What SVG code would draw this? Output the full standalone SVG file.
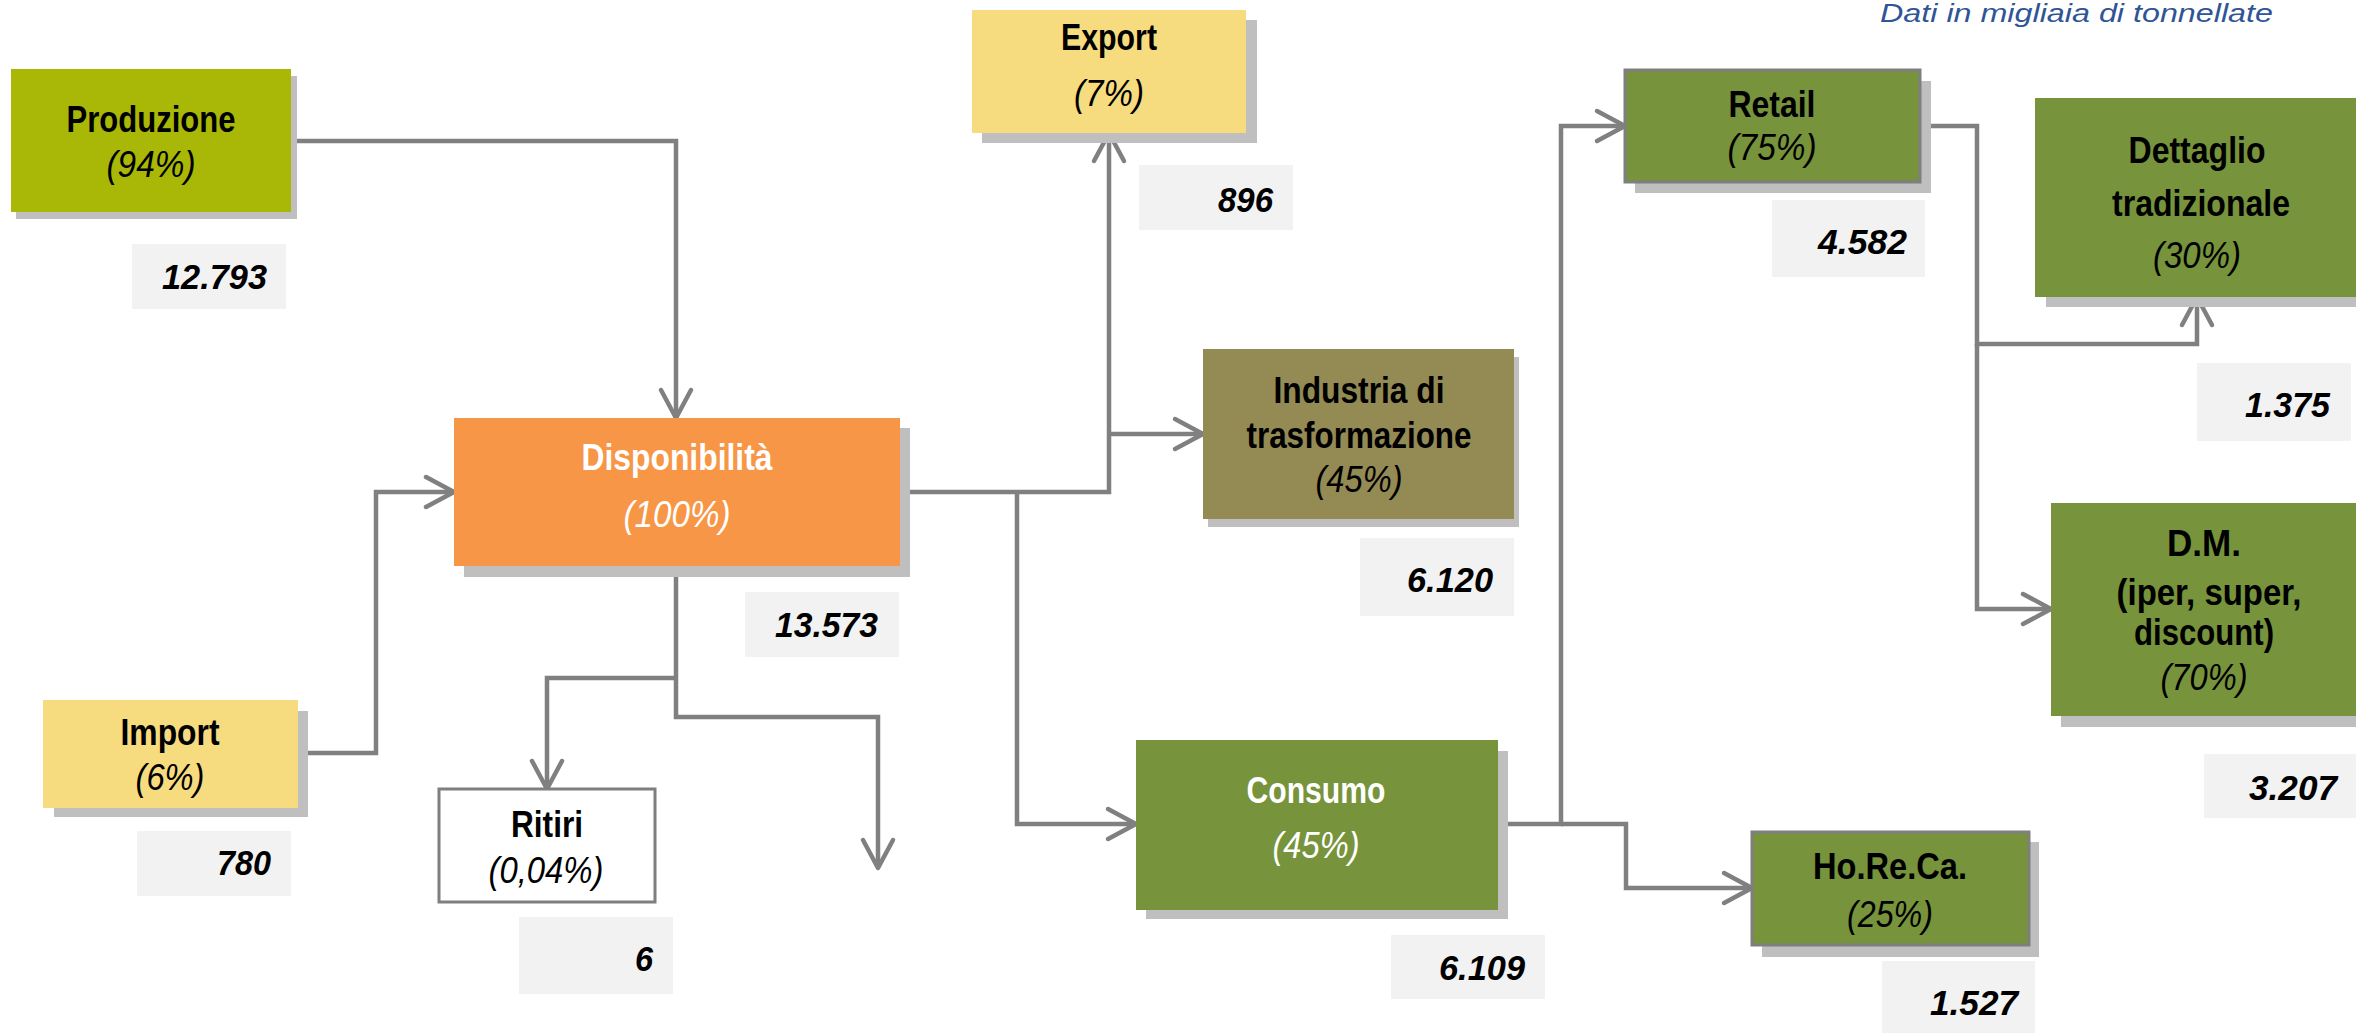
<svg xmlns="http://www.w3.org/2000/svg" width="2356" height="1033" viewBox="0 0 2356 1033">
<defs>
<style>
.sh{fill:#bfbfbf}
.vb{fill:#f2f2f2}
.bd{stroke:#7f7f7f;stroke-width:3}
.b{font-family:"Liberation Sans",Arial,sans-serif;font-weight:bold;font-size:36px;text-anchor:middle;fill:#000}
.i{font-family:"Liberation Sans",Arial,sans-serif;font-style:italic;font-size:36px;text-anchor:middle;fill:#000}
.w{fill:#fff}
.v{font-family:"Liberation Sans",Arial,sans-serif;font-weight:bold;font-style:italic;font-size:35px;text-anchor:end;fill:#000}
.c{fill:none;stroke:#808080;stroke-width:4.5;stroke-linejoin:miter}
.t{font-family:"Liberation Sans",Arial,sans-serif;font-style:italic;font-size:26px;fill:#2f5597}
</style>
<marker id="ar" markerUnits="userSpaceOnUse" markerWidth="40" markerHeight="40" viewBox="-32 -20 36 40" refX="0" refY="0" orient="auto">
<path d="M-28,-15 L0,0 L-28,15" fill="none" stroke="#808080" stroke-width="4.5" stroke-linecap="round" stroke-linejoin="round"/>
</marker>
</defs>
<rect width="2356" height="1033" fill="#fff"/>
<text class="t" x="1880" y="22" textLength="393" lengthAdjust="spacingAndGlyphs">Dati in migliaia di tonnellate</text>

<g id="connectors">
<path class="c" d="M291,141 H676 V418" marker-end="url(#ar)"/>
<path class="c" d="M298,753 H376 V492 H454" marker-end="url(#ar)"/>
<path class="c" d="M900,492 H1109 V133" marker-end="url(#ar)"/>
<path class="c" d="M1109,434 H1203" marker-end="url(#ar)"/>
<path class="c" d="M1017,492 V824 H1136" marker-end="url(#ar)"/>
<path class="c" d="M676,566 V717 H878 V868" marker-end="url(#ar)"/>
<path class="c" d="M676,678 H547 V789" marker-end="url(#ar)"/>
<path class="c" d="M1498,824 H1561 V126 H1625" marker-end="url(#ar)"/>
<path class="c" d="M1561,824 H1626 V888 H1752" marker-end="url(#ar)"/>
<path class="c" d="M1920,126 H1977 V344 H2197 V297" marker-end="url(#ar)"/>
<path class="c" d="M1977,344 V609 H2051" marker-end="url(#ar)"/>
</g>

<g id="produzione">
<rect class="sh" x="16" y="76" width="281" height="143"/>
<rect x="11" y="69" width="280" height="143" fill="#a9b707"/>
<text class="b" x="151" y="132" textLength="169" lengthAdjust="spacingAndGlyphs">Produzione</text>
<text class="i" x="151" y="177" textLength="89" lengthAdjust="spacingAndGlyphs">(94%)</text>
</g>
<g id="val-produzione">
<rect class="vb" x="132" y="244" width="154" height="65"/>
<text class="v" x="267" y="289" textLength="105" lengthAdjust="spacingAndGlyphs">12.793</text>
</g>

<g id="export">
<rect class="sh" x="982" y="20" width="275" height="123"/>
<rect x="972" y="10" width="274" height="123" fill="#f7dc7f"/>
<text class="b" x="1109" y="50" textLength="96" lengthAdjust="spacingAndGlyphs">Export</text>
<text class="i" x="1109" y="106" textLength="70" lengthAdjust="spacingAndGlyphs">(7%)</text>
</g>
<g id="val-export">
<rect class="vb" x="1139" y="165" width="154" height="65"/>
<text class="v" x="1273" y="212" textLength="55" lengthAdjust="spacingAndGlyphs">896</text>
</g>

<g id="retail">
<rect class="sh" x="1635" y="81" width="296" height="112"/>
<rect class="bd" x="1625" y="70" width="295" height="112" fill="#77933c"/>
<text class="b" x="1772" y="117" textLength="87" lengthAdjust="spacingAndGlyphs">Retail</text>
<text class="i" x="1772" y="160" textLength="89" lengthAdjust="spacingAndGlyphs">(75%)</text>
</g>
<g id="val-retail">
<rect class="vb" x="1772" y="200" width="153" height="77"/>
<text class="v" x="1907" y="254" textLength="89" lengthAdjust="spacingAndGlyphs">4.582</text>
</g>

<g id="dettaglio">
<rect class="sh" x="2046" y="108" width="330" height="199"/>
<rect x="2035" y="98" width="340" height="199" fill="#77933c"/>
<text class="b" x="2197" y="163" textLength="137" lengthAdjust="spacingAndGlyphs">Dettaglio</text>
<text class="b" x="2201" y="216" textLength="178" lengthAdjust="spacingAndGlyphs">tradizionale</text>
<text class="i" x="2197" y="268" textLength="88" lengthAdjust="spacingAndGlyphs">(30%)</text>
</g>
<g id="val-dettaglio">
<rect class="vb" x="2197" y="363" width="154" height="78"/>
<text class="v" x="2330" y="417" textLength="85" lengthAdjust="spacingAndGlyphs">1.375</text>
</g>

<g id="industria">
<rect class="sh" x="1208" y="357" width="311" height="170"/>
<rect x="1203" y="349" width="311" height="170" fill="#948a54"/>
<text class="b" x="1359" y="403" textLength="171" lengthAdjust="spacingAndGlyphs">Industria di</text>
<text class="b" x="1359" y="448" textLength="225" lengthAdjust="spacingAndGlyphs">trasformazione</text>
<text class="i" x="1359" y="492" textLength="87" lengthAdjust="spacingAndGlyphs">(45%)</text>
</g>
<g id="val-industria">
<rect class="vb" x="1360" y="538" width="154" height="78"/>
<text class="v" x="1493" y="592" textLength="86" lengthAdjust="spacingAndGlyphs">6.120</text>
</g>

<g id="disponibilita">
<rect class="sh" x="464" y="428" width="446" height="149"/>
<rect x="454" y="418" width="446" height="148" fill="#f79646"/>
<text class="b w" x="677" y="470" textLength="191" lengthAdjust="spacingAndGlyphs">Disponibilità</text>
<text class="i w" x="677" y="527" textLength="107" lengthAdjust="spacingAndGlyphs">(100%)</text>
</g>
<g id="val-disponibilita">
<rect class="vb" x="745" y="592" width="154" height="65"/>
<text class="v" x="878" y="637" textLength="103" lengthAdjust="spacingAndGlyphs">13.573</text>
</g>

<g id="import">
<rect class="sh" x="54" y="711" width="254" height="106"/>
<rect x="43" y="700" width="255" height="108" fill="#f7dc7f"/>
<text class="b" x="170" y="745" textLength="99" lengthAdjust="spacingAndGlyphs">Import</text>
<text class="i" x="170" y="790" textLength="69" lengthAdjust="spacingAndGlyphs">(6%)</text>
</g>
<g id="val-import">
<rect class="vb" x="137" y="831" width="154" height="65"/>
<text class="v" x="271" y="875" textLength="54" lengthAdjust="spacingAndGlyphs">780</text>
</g>

<g id="ritiri">
<rect class="bd" x="439" y="789" width="216" height="113" fill="#fff"/>
<text class="b" x="547" y="837" textLength="72" lengthAdjust="spacingAndGlyphs">Ritiri</text>
<text class="i" x="546" y="883" textLength="115" lengthAdjust="spacingAndGlyphs">(0,04%)</text>
</g>
<g id="val-ritiri">
<rect class="vb" x="519" y="917" width="154" height="77"/>
<text class="v" x="653" y="971" textLength="18" lengthAdjust="spacingAndGlyphs">6</text>
</g>

<g id="consumo">
<rect class="sh" x="1146" y="751" width="362" height="168"/>
<rect x="1136" y="740" width="362" height="170" fill="#77933c"/>
<text class="b w" x="1316" y="803" textLength="139" lengthAdjust="spacingAndGlyphs">Consumo</text>
<text class="i w" x="1316" y="858" textLength="87" lengthAdjust="spacingAndGlyphs">(45%)</text>
</g>
<g id="val-consumo">
<rect class="vb" x="1391" y="935" width="154" height="64"/>
<text class="v" x="1525" y="980" textLength="86" lengthAdjust="spacingAndGlyphs">6.109</text>
</g>

<g id="dm">
<rect class="sh" x="2061" y="513" width="310" height="214"/>
<rect x="2051" y="503" width="320" height="213" fill="#77933c"/>
<text class="b" x="2204" y="556" textLength="74" lengthAdjust="spacingAndGlyphs">D.M.</text>
<text class="b" x="2209" y="605" textLength="185" lengthAdjust="spacingAndGlyphs">(iper, super,</text>
<text class="b" x="2204" y="645" textLength="140" lengthAdjust="spacingAndGlyphs">discount)</text>
<text class="i" x="2204" y="690" textLength="87" lengthAdjust="spacingAndGlyphs">(70%)</text>
</g>
<g id="val-dm">
<rect class="vb" x="2204" y="754" width="160" height="64"/>
<text class="v" x="2337" y="800" textLength="88" lengthAdjust="spacingAndGlyphs">3.207</text>
</g>

<g id="horeca">
<rect class="sh" x="1762" y="842" width="277" height="115"/>
<rect class="bd" x="1752" y="832" width="277" height="113" fill="#77933c"/>
<text class="b" x="1890" y="879" textLength="154" lengthAdjust="spacingAndGlyphs">Ho.Re.Ca.</text>
<text class="i" x="1890" y="927" textLength="86" lengthAdjust="spacingAndGlyphs">(25%)</text>
</g>
<g id="val-horeca">
<rect class="vb" x="1882" y="961" width="153" height="72"/>
<text class="v" x="2018" y="1015" textLength="88" lengthAdjust="spacingAndGlyphs">1.527</text>
</g>
</svg>
